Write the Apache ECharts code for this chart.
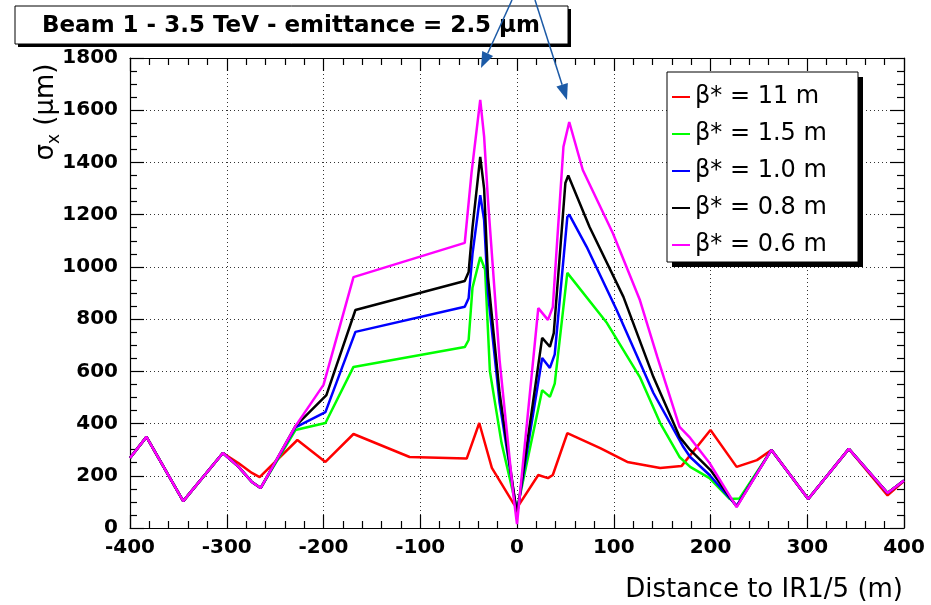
<!DOCTYPE html>
<html>
<head>
<meta charset="utf-8">
<script src="https://cdn.jsdelivr.net/npm/echarts/dist/echarts.min.js"></script>
<style>
  html, body { margin: 0; padding: 0; background: #fff; }
  #chart { width: 931px; height: 605px; }
</style>
</head>
<body>
<div id="chart"></div>
<script>
// sigma_x (um) vs distance to IR (m)
const leftArc = [[-400, 268], [-383, 349], [-345, 103], [-304, 287], [-288, 235], [-274, 176], [-265, 153]];
const rightArc = [[263, 299], [301, 111], [343, 303], [383, 134], [400, 182]];

const red11 = [[-400, 268], [-383, 349], [-345, 103], [-304, 287], [-288, 249], [-274, 211], [-266, 195],
  [-227, 337], [-198, 253], [-169, 360], [-111, 272], [-52, 266], [-39, 402], [-26, 230], [-4, 96], [0, 77],
  [22, 203], [32, 191], [37, 203], [52, 363], [86, 306], [114, 253], [148, 230], [170, 237], [200, 375],
  [227, 234], [248, 260], [263, 299], [301, 111], [343, 303], [383, 125], [400, 180]];

const green15 = [[-229, 375], [-198, 402], [-169, 617], [-54, 693], [-50, 720], [-46, 920], [-38, 1038],
  [-33, 990], [-28, 600], [-16, 326], [0, 70], [26, 528], [34, 502], [39, 553], [52, 977], [54, 980],
  [93, 785], [127, 578], [148, 402], [168, 272], [179, 234], [199, 191], [220, 111], [230, 113]];

const blue10 = [[-229, 385], [-198, 444], [-167, 751], [-54, 847], [-50, 880], [-46, 1050], [-38, 1275],
  [-34, 1180], [-30, 900], [-18, 480], [0, 55], [26, 651], [34, 613], [39, 665], [52, 1191], [54, 1200],
  [72, 1077], [103, 835], [141, 517], [172, 310], [179, 272], [199, 203], [227, 85]];

const black08 = [[-229, 390], [-197, 509], [-167, 835], [-54, 946], [-50, 980], [-46, 1150], [-38, 1421],
  [-34, 1300], [-30, 961], [-18, 517], [0, 50], [26, 728], [34, 694], [38, 746], [50, 1321], [53, 1350],
  [75, 1153], [110, 885], [141, 578], [168, 349], [179, 299], [200, 222], [227, 82]];

const magenta06 = [[-229, 390], [-200, 548], [-169, 961], [-54, 1092], [-47, 1360], [-38, 1640], [-34, 1500],
  [-30, 1256], [-18, 643], [-4, 134], [0, 15], [22, 842], [32, 797], [37, 846], [48, 1460], [54, 1555],
  [68, 1371], [99, 1130], [127, 873], [145, 655], [168, 387], [179, 345], [199, 249], [227, 80]];

const names = ['β* = 11 m', 'β* = 1.5 m', 'β* = 1.0 m', 'β* = 0.8 m', 'β* = 0.6 m'];
const colors = ['#ff0000', '#00ff00', '#0000ff', '#000000', '#ff00ff'];
const curves = [
  red11,
  leftArc.concat(green15, rightArc),
  leftArc.concat(blue10, rightArc),
  leftArc.concat(black08, rightArc),
  leftArc.concat(magenta06, rightArc)
];

const chart = echarts.init(document.getElementById('chart'));

function axisX(top) {
  return {
    type: 'value', min: -400, max: 400, interval: 100,
    position: top ? 'top' : 'bottom',
    axisLine: { show: true, onZero: false, lineStyle: { color: '#000', width: 1.2 } },
    axisTick: { show: true, inside: true, length: 13, lineStyle: { color: '#000', width: 1.2 } },
    minorTick: { show: true, splitNumber: 5, length: 7, lineStyle: { color: '#000', width: 1.2 } },
    axisLabel: { show: !top, color: '#000', fontSize: 20, fontWeight: 'bold', fontFamily: 'DejaVu Sans', margin: 10,
      formatter: v => String(v) },
    splitLine: { show: !top, lineStyle: { color: '#333', width: 1, type: [1, 3] } }
  };
}
function axisY(right) {
  return {
    type: 'value', min: 0, max: 1800, interval: 200,
    position: right ? 'right' : 'left',
    axisLine: { show: true, onZero: false, lineStyle: { color: '#000', width: 1.2 } },
    axisTick: { show: true, inside: true, length: 14, lineStyle: { color: '#000', width: 1.2 } },
    minorTick: { show: true, splitNumber: 4, length: 7, lineStyle: { color: '#000', width: 1.2 } },
    axisLabel: { show: !right, color: '#000', fontSize: 20, fontWeight: 'bold', fontFamily: 'DejaVu Sans', margin: 12,
      formatter: v => String(v) },
    splitLine: { show: !right, lineStyle: { color: '#333', width: 1, type: [1, 3] } }
  };
}

function arrow(x0, y0, x1, y1) {
  const dx = x1 - x0, dy = y1 - y0, len = Math.sqrt(dx * dx + dy * dy);
  const ux = dx / len, uy = dy / len, hl = 16, hw = 6;
  const bx = x1 - ux * hl, by = y1 - uy * hl;
  return [
    { type: 'line', z: 20, shape: { x1: x0, y1: y0, x2: bx, y2: by }, style: { stroke: '#1c5aa6', lineWidth: 1.5 } },
    { type: 'polygon', z: 20, shape: { points: [[x1, y1], [bx - uy * hw, by + ux * hw], [bx + uy * hw, by - ux * hw]] },
      style: { fill: '#1c5aa6' } }
  ];
}

const option = {
  animation: false,
  backgroundColor: '#fff',
  textStyle: { fontFamily: 'DejaVu Sans' },
  grid: { left: 130, right: 27, top: 58, bottom: 77 },
  xAxis: [axisX(false), axisX(true)],
  yAxis: [axisY(false), axisY(true)],
  legend: {
    orient: 'vertical', left: 672, top: 85, z: 5, padding: 0,
    icon: 'rect', itemWidth: 18, itemHeight: 2, itemGap: 13,
    textStyle: { color: '#000', fontSize: 24, fontFamily: 'DejaVu Sans' },
    data: names
  },
  graphic: [
    { type: 'rect', z: 10, shape: { x: 18, y: 9, width: 553, height: 38 }, style: { fill: '#000' } },
    { type: 'rect', z: 11, shape: { x: 15, y: 6, width: 553, height: 38 }, style: { fill: '#fff', stroke: '#000', lineWidth: 1 } },
    { type: 'text', z: 12, x: 291, y: 26,
      style: { text: 'Beam 1 - 3.5 TeV - emittance = 2.5 μm', font: 'bold 23px "DejaVu Sans"', fill: '#000', align: 'center', verticalAlign: 'middle' } },
    { type: 'rect', z: 3, shape: { x: 672, y: 77, width: 191, height: 190 }, style: { fill: '#000' } },
    { type: 'rect', z: 3, shape: { x: 667, y: 72, width: 191, height: 190 }, style: { fill: '#fff', stroke: '#000', lineWidth: 1 } },
    { type: 'text', z: 12, x: 46, y: 112, rotation: Math.PI / 2,
      style: {
        text: '{s|σ}{x|x}{s| (μm)}', align: 'center', verticalAlign: 'middle', fill: '#000',
        rich: {
          s: { fontSize: 26, fontFamily: 'DejaVu Sans', lineHeight: 34, verticalAlign: 'middle' },
          x: { fontSize: 17, fontFamily: 'DejaVu Sans', lineHeight: 34, verticalAlign: 'bottom' }
        }
      } },
    { type: 'text', z: 12, x: 903, y: 590,
      style: { text: 'Distance to IR1/5 (m)', font: '26px "DejaVu Sans"', fill: '#000', align: 'right', verticalAlign: 'middle' } }
  ].concat(arrow(512, 0, 481, 68), arrow(535, 0, 567, 100)),
  series: curves.map((d, i) => ({
    name: names[i], type: 'line', data: d, symbol: 'none', showSymbol: false,
    xAxisIndex: 0, yAxisIndex: 0,
    color: colors[i],
    lineStyle: { color: colors[i], width: 2.5 },
    itemStyle: { color: colors[i] },
    z: 2 + i * 0.01
  }))
};
chart.setOption(option);
</script>
</body>
</html>
